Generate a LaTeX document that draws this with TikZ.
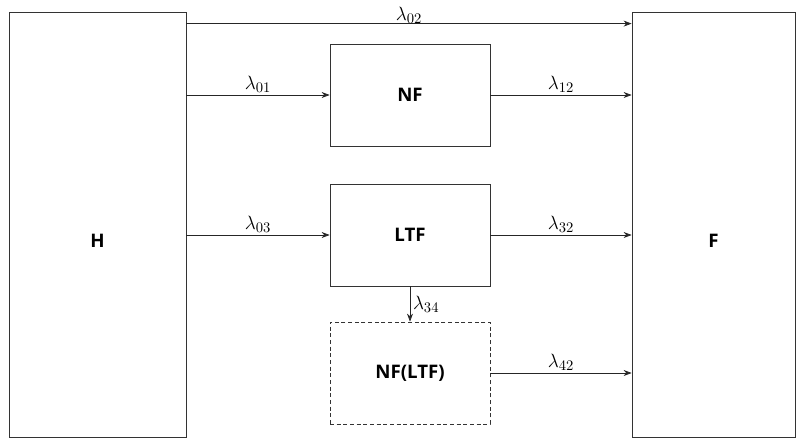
\documentclass[tikz,border=0pt]{standalone}
\usepackage{fontspec}
\setmainfont{Open Sans}
\usetikzlibrary{arrows.meta,calc}
\begin{document}
\begin{tikzpicture}[x=0.75pt,y=-0.75pt,
  box/.style={draw=black!80,line width=0.6pt,rectangle,inner sep=0pt,font=\bfseries\fontsize{14}{16}\selectfont},
  boxtext/.style={font=\bfseries\fontsize{14}{16}\selectfont,inner sep=0pt},
  arr/.style={draw=black!85,line width=0.5pt,-{Stealth[length=6pt,width=4.5pt]}},
  lab/.style={font=\fontsize{15}{17}\selectfont,inner sep=1pt}]
\useasboundingbox (0,0) rectangle (802,440);
\node[box,minimum width=177*0.75pt,minimum height=425*0.75pt] (H) at (97.5,224.5) {};
\node[boxtext] (Ht) at ($(H.center)+(0,16)$) {H};
\node[box,minimum width=163*0.75pt,minimum height=425*0.75pt] (F) at (713.5,224.5) {};
\node[boxtext] (Ft) at ($(F.center)+(0,16)$) {F};
\node[box,minimum width=160*0.75pt,minimum height=102*0.75pt] (NF) at (410,95) {NF};
\node[box,minimum width=160*0.75pt,minimum height=102*0.75pt] (LTF) at (410,235) {LTF};
\node[box,dash pattern=on 3pt off 2pt,minimum width=160*0.75pt,minimum height=102*0.75pt] (NFL) at (410,373) {NF(LTF)};
\coordinate (t1) at ($(H.north east)+(0,12)$);
\draw[arr] (t1) -- (F.west |- t1) node[lab,midway,above=-1pt] {$\lambda_{02}$};
\draw[arr] (H.east |- NF.west) -- (NF.west) node[lab,midway,above=1pt] {$\lambda_{01}$};
\draw[arr] (NF.east) -- (F.west |- NF.east) node[lab,midway,above=1pt] {$\lambda_{12}$};
\draw[arr] (H.east |- LTF.west) -- (LTF.west) node[lab,midway,above=1pt] {$\lambda_{03}$};
\draw[arr] (LTF.east) -- (F.west |- LTF.east) node[lab,midway,above=1pt] {$\lambda_{32}$};
\draw[arr] (LTF.south) -- (NFL.north) node[lab,midway,right=1pt] {$\lambda_{34}$};
\draw[arr] (NFL.east) -- (F.west |- NFL.east) node[lab,midway,above=1pt] {$\lambda_{42}$};
\end{tikzpicture}
\end{document}
